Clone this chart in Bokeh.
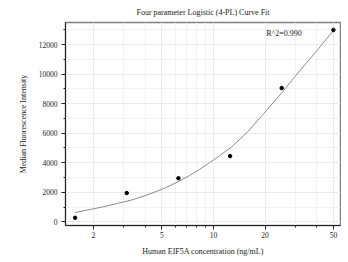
from bokeh.plotting import figure
from bokeh.models import FixedTicker, Label, PrintfTickFormatter, Range1d
from bokeh.embed import file_html
from bokeh.resources import INLINE

# Standards (ng/mL) and measured median fluorescence intensity
conc = [1.5625, 3.125, 6.25, 12.5, 25, 50]
mfi = [270, 1950, 2950, 4450, 9060, 12990]

# Fitted 4-PL curve
fit_x = [1.5625, 1.905, 2.3, 2.75, 3.27, 3.98, 5.09, 6.25, 7.24, 8.3, 10, 12.7,
         15.85, 19.7, 25, 30.8, 39.8, 50]
fit_y = [630, 830, 1030, 1240, 1450, 1760, 2230, 2720, 3130, 3550, 4180, 5050,
         6100, 7350, 8730, 10030, 11550, 12950]

x_ticks = [2, 5, 10, 20, 50]
x_minor = [2, 3, 4, 5, 6, 7, 8, 9, 10, 20, 30, 40, 50]
y_ticks = [0, 2000, 4000, 6000, 8000, 10000, 12000]
y_minor = [1000, 3000, 5000, 7000, 9000, 11000, 13000]

r2_text = "R^2=0.990"
title_text = "Four parameter Logistic (4-PL) Curve Fit"
x_label = "Human EIF5A concentration (ng/mL)"
y_label = "Median Fluorescence Intensity"

FONT = "Liberation Serif"

p = figure(width=341, height=258, x_axis_type="log",
           x_range=Range1d(1.374, 55.0), y_range=Range1d(-250, 13500),
           output_backend="svg", toolbar_location=None,
           min_border_left=65, min_border_right=1, min_border_top=21, min_border_bottom=33)

p.title.text = title_text
p.title.align = "center"
p.title.standoff = 11
p.title.text_font = FONT
p.title.text_font_size = "8px"
p.title.text_font_style = "normal"
p.title.text_color = "#222222"

p.line(fit_x, fit_y, line_color="#8c8c8c", line_width=1)
p.scatter(conc, mfi, size=3.5, fill_color="black", line_color="black")

p.add_layout(Label(x=20.3, y=12770, text=r2_text, text_font=FONT, text_font_size="8px",
                   text_baseline="middle", text_align="left", text_color="#222222"))

p.xaxis.ticker = FixedTicker(ticks=x_ticks, minor_ticks=x_minor)
p.yaxis.ticker = FixedTicker(ticks=y_ticks, minor_ticks=y_minor)
p.xaxis.formatter = PrintfTickFormatter(format="%d")
p.xaxis.axis_label = x_label
p.yaxis.axis_label = y_label

for ax in (p.xaxis[0], p.yaxis[0]):
    ax.axis_label_text_font = FONT
    ax.axis_label_text_font_size = "8px"
    ax.axis_label_text_font_style = "normal"
    ax.axis_label_text_color = "#222222"
    ax.major_label_text_font = FONT
    ax.major_label_text_font_size = "7.5px"
    ax.major_label_text_color = "#222222"
    ax.axis_line_color = "#222222"
    ax.major_tick_line_color = "#222222"
    ax.minor_tick_line_color = "#222222"
    ax.major_tick_out = 4
    ax.major_tick_in = 0
    ax.minor_tick_out = 2
    ax.minor_tick_in = 0

p.xaxis.major_label_standoff = 2
p.xaxis.axis_label_standoff = 6
p.yaxis.major_label_standoff = 4
p.yaxis.axis_label_standoff = 8

p.grid.grid_line_color = "#ebebeb"
p.grid.minor_grid_line_color = "#f2f2f2"
p.outline_line_color = "#808080"
p.outline_line_width = 1.5

open("out.html", "w").write(file_html(p, INLINE))
